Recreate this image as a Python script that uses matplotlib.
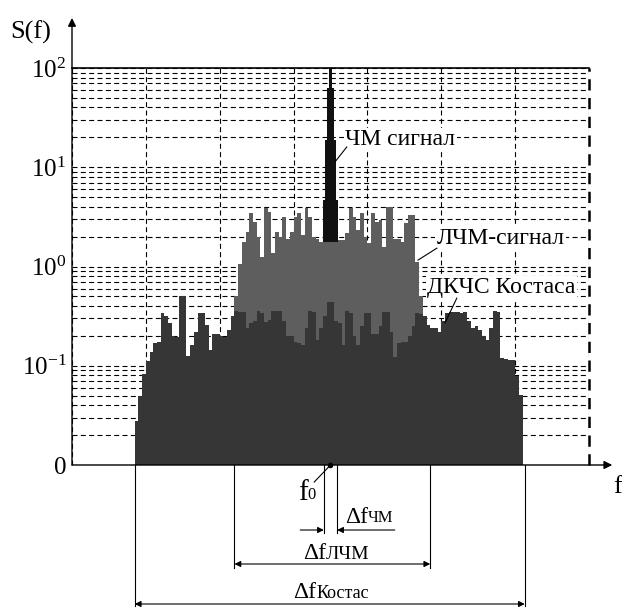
import numpy as np
import matplotlib
matplotlib.use("Agg")
from matplotlib import pyplot as plt
from matplotlib.ticker import LogLocator, NullFormatter

plt.rcParams['font.family'] = ['Liberation Serif', 'DejaVu Serif']
plt.rcParams['mathtext.fontset'] = 'custom'
plt.rcParams['mathtext.rm'] = 'Liberation Serif'
plt.rcParams['mathtext.it'] = 'Liberation Serif'

# spectrum of the Costas signal (ДКЧС), bin width 0.05, starts at 0.85
costas_start = 0.85
bin_w = 0.05
costas = [0.028, 0.050, 0.083, 0.112, 0.138, 0.17, 0.174, 0.34, 0.32, 0.27,
          0.20, 0.195, 0.51, 0.51, 0.126, 0.162, 0.22, 0.34, 0.34, 0.26,
          0.145, 0.21, 0.21, 0.20, 0.195, 0.23, 0.32, 0.36, 0.35, 0.35,
          0.24, 0.27, 0.28, 0.36, 0.34, 0.275, 0.29, 0.36, 0.36, 0.36,
          0.28, 0.20, 0.20, 0.174, 0.17, 0.162, 0.24, 0.36, 0.35, 0.18,
          0.24, 0.32, 0.44, 0.44, 0.28, 0.27, 0.16, 0.36, 0.34, 0.20,
          0.162, 0.25, 0.34, 0.34, 0.21, 0.21, 0.25, 0.35, 0.35, 0.22,
          0.123, 0.17, 0.174, 0.174, 0.20, 0.25, 0.34, 0.33, 0.32, 0.26,
          0.24, 0.24, 0.22, 0.28, 0.34, 0.35, 0.35, 0.35, 0.34, 0.35,
          0.28, 0.24, 0.25, 0.23, 0.20, 0.18, 0.24, 0.36, 0.35, 0.12,
          0.117, 0.115, 0.115, 0.079, 0.051]

# spectrum of the LFM signal (ЛЧМ), starts at 2.2
lfm_start = 2.2
lfm = [0.50, 1.07, 1.78, 2.24, 3.47, 2.82, 2.0, 1.26, 3.9, 3.55,
       1.38, 2.24, 2.0, 3.16, 1.9, 2.24, 3.16, 3.47, 2.09, 3.9,
       3.16, 2.0, 1.9, 1.78, 1.78, 1.78, 1.78, 1.78, 1.86, 1.86,
       2.19, 3.9, 3.16, 2.34, 3.47, 2.0, 1.74, 3.47, 2.82, 2.95,
       1.58, 4.0, 4.0, 1.9, 1.9, 1.78, 2.75, 3.3, 3.3, 1.12, 0.50]

# FM (ЧМ) spectral lines around f0
f0 = 3.5
fm_step = 0.03
fm = [4.7, 19, 63, 100, 63, 19, 4.7]

# bandwidth markers
df_fm = (3.41, 3.59)
df_lfm = (2.2, 4.85)
df_costas = (0.85, 6.13)

y_floor = 1e-2
dark = '#363636'
gray = '#5e5e5e'

fig = plt.figure(figsize=(6.22, 6.08), dpi=100)
W, H = 622, 608
ax = fig.add_axes([72 / W, 1 - 465 / H, (589 - 72) / W, (465 - 68) / H])
ax.set_xlim(0, 7)
ax.set_yscale('log')
ax.set_ylim(y_floor, 100)

# grid
dash = (0, (4.5, 3))
ax.set_xticks(np.arange(0, 8))
ax.xaxis.set_ticklabels([])
ax.yaxis.set_minor_locator(LogLocator(base=10, subs=np.arange(2, 10)))
ax.yaxis.set_minor_formatter(NullFormatter())
ax.set_yticks([1e-2, 1e-1, 1, 10, 100])
ax.set_yticklabels(['0', '$10^{-1}$', '$10^{0}$', '$10^{1}$', '$10^{2}$'],
                   fontsize=18)
ax.tick_params(which='both', length=0, pad=4)
ax.set_axisbelow(True)
ax.grid(True, which='both', axis='both', color='black', linestyle=dash,
        linewidth=0.8)
for s in ax.spines.values():
    s.set_visible(False)
ax.axhline(100, color='black', lw=1.2, clip_on=False, zorder=5)
ax.axvline(7, color='black', lw=1.8, linestyle=dash, clip_on=False, zorder=5)

# spectra: FM behind LFM, Costas in front
fm_pos = f0 + fm_step * (np.arange(len(fm)) - len(fm) // 2)
ax.bar(fm_pos, np.array(fm) - y_floor, bottom=y_floor, width=fm_step,
       color='#111111', linewidth=0, zorder=1.5)
lfm_edges = lfm_start + bin_w * np.arange(len(lfm) + 1)
ax.stairs(lfm, lfm_edges, baseline=y_floor, fill=True, color=gray, zorder=2)
costas_edges = costas_start + bin_w * np.arange(len(costas) + 1)
ax.stairs(costas, costas_edges, baseline=y_floor, fill=True, color=dark, zorder=3)

# axes with arrows
arrow = dict(arrowstyle='-|>', color='black', lw=1, mutation_scale=12,
             shrinkA=0, shrinkB=0)
ax.annotate('', xy=(0, 1.126), xytext=(0, 0), xycoords='axes fraction',
            arrowprops=arrow, zorder=6)
ax.annotate('', xy=(1.045, 0), xytext=(0, 0), xycoords='axes fraction',
            arrowprops=arrow, zorder=6)
fig.text(10 / W, 1 - 39 / H, 'S(f)', fontsize=19, va='baseline')
fig.text(613 / W, 1 - 493 / H, 'f', fontsize=19, va='baseline')

# curve labels
box = dict(facecolor='white', edgecolor='none', pad=1)
lab = dict(fontsize=17, va='baseline', ha='left', bbox=box, zorder=6)
ax.text(3.70, 16.7, 'ЧМ сигнал', **lab)
ax.text(4.94, 1.69, 'ЛЧМ-сигнал', **lab)
ax.text(4.81, 0.54, 'ДКЧС Костаса', **lab)
ax.plot([3.72, 3.56], [16.0, 11.3], color='black', lw=0.8, zorder=6)
ax.plot([4.94, 4.685], [1.53, 1.16], color='black', lw=0.8, zorder=6)
ax.plot([5.21, 5.05], [0.48, 0.27], color='black', lw=0.8, zorder=6)

# bandwidth dimensions below the axis
tr = ax.get_xaxis_transform()


def ypx(p):
    return (465 - p) / 397


def vline(x, bottom):
    ax.plot([x, x], [0, ypx(bottom)], transform=tr, color='black', lw=0.8,
            clip_on=False)


def span(x1, x2, y):
    ax.annotate('', xy=(x2, ypx(y)), xytext=(x1, ypx(y)), xycoords=tr,
                arrowprops=dict(arrowstyle='<|-|>', color='black', lw=0.8,
                                mutation_scale=9, shrinkA=0, shrinkB=0))


def with_sub(x, y, main, sub, size, sub_size):
    # main text plus a smaller tail sitting on the same baseline
    t = ax.text(x, ypx(y), main, transform=tr, fontsize=size, ha='left',
                va='baseline')
    ax.annotate(sub, xy=(1, 0), xycoords=t, xytext=(0, 0.22 * (size - sub_size)),
                textcoords='offset points', fontsize=sub_size, ha='left',
                va='bottom')


for x in df_fm:
    vline(x, 533)
for x in df_lfm:
    vline(x, 568)
for x in df_costas:
    vline(x, 606)

one = dict(arrowstyle='-|>', color='black', lw=0.8, mutation_scale=9,
           shrinkA=0, shrinkB=0)
ax.annotate('', xy=(df_fm[0], ypx(530)), xytext=(3.09, ypx(530)),
            xycoords=tr, arrowprops=one)
ax.annotate('', xy=(df_fm[1], ypx(530)), xytext=(4.37, ypx(530)),
            xycoords=tr, arrowprops=one)
span(df_lfm[0], df_lfm[1], 564)
span(df_costas[0], df_costas[1], 604)

with_sub(3.70, 523, 'Δf', 'ЧМ', 17, 12)
with_sub(3.13, 559, 'Δf', 'ЛЧМ', 17, 14)
with_sub(3.00, 598, 'Δf', 'Костас', 17, 13)

# f0 marker
with_sub(3.06, 500, 'f', '0', 21, 12)
ax.plot([3.28, f0], [ypx(482), 0], transform=tr, color='black', lw=0.8,
        clip_on=False)
ax.plot([f0], [0], 'o', transform=tr, color='black', ms=3, clip_on=False,
        zorder=7)

fig.savefig('out.png', dpi=100, facecolor='white')
